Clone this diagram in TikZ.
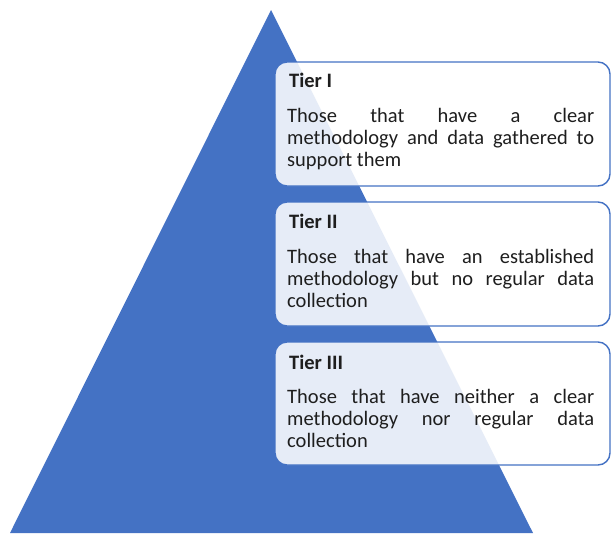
\documentclass[tikz,border=0pt]{standalone}
\usepackage{fontspec}
\setmainfont{Carlito}
\definecolor{tblue}{HTML}{4472C4}
\definecolor{ttext}{HTML}{1E1E1E}
\begin{document}
\begin{tikzpicture}[x=1pt,y=-1pt,
  tierbox/.style={draw=tblue, line width=1.4pt, fill=white, fill opacity=0.87, rounded corners=12pt},
  head/.style={anchor=base west, inner sep=0pt, text=ttext, font=\fontsize{20.5}{24}\selectfont\bfseries},
  body/.style={anchor=base west, inner sep=0pt, text=ttext, font=\fontsize{20.5}{24}\selectfont}]
\useasboundingbox (0,0) rectangle (612,533);
\fill[tblue] (10,533) -- (271,10) -- (533,533) -- cycle;
% boxes
\draw[tierbox] (275,62) rectangle (610,186);
\draw[tierbox] (275,202) rectangle (610,326);
\draw[tierbox] (275,342) rectangle (610,465);
% Tier I
\node[head] (h1) at (289,87) {Tier I};
\node[body] (a1) at (287,122) {\makebox[307pt][s]{Those that have a clear}};
\node[body] (a2) at (287,144) {\makebox[307pt][s]{methodology and data gathered to}};
\node[body] (a3) at (287,166) {support them};
% Tier II
\node[head] (h2) at (289,228) {Tier II};
\node[body] (b1) at (287,263) {\makebox[307pt][s]{Those that have an established}};
\node[body] (b2) at (287,285) {\makebox[307pt][s]{methodology but no regular data}};
\node[body] (b3) at (287,307) {collection};
% Tier III
\node[head] (h3) at (289,369) {Tier III};
\node[body] (c1) at (287,403) {\makebox[307pt][s]{Those that have neither a clear}};
\node[body] (c2) at (287,425) {\makebox[307pt][s]{methodology nor regular data}};
\node[body] (c3) at (287,447) {collection};
\end{tikzpicture}
\end{document}
